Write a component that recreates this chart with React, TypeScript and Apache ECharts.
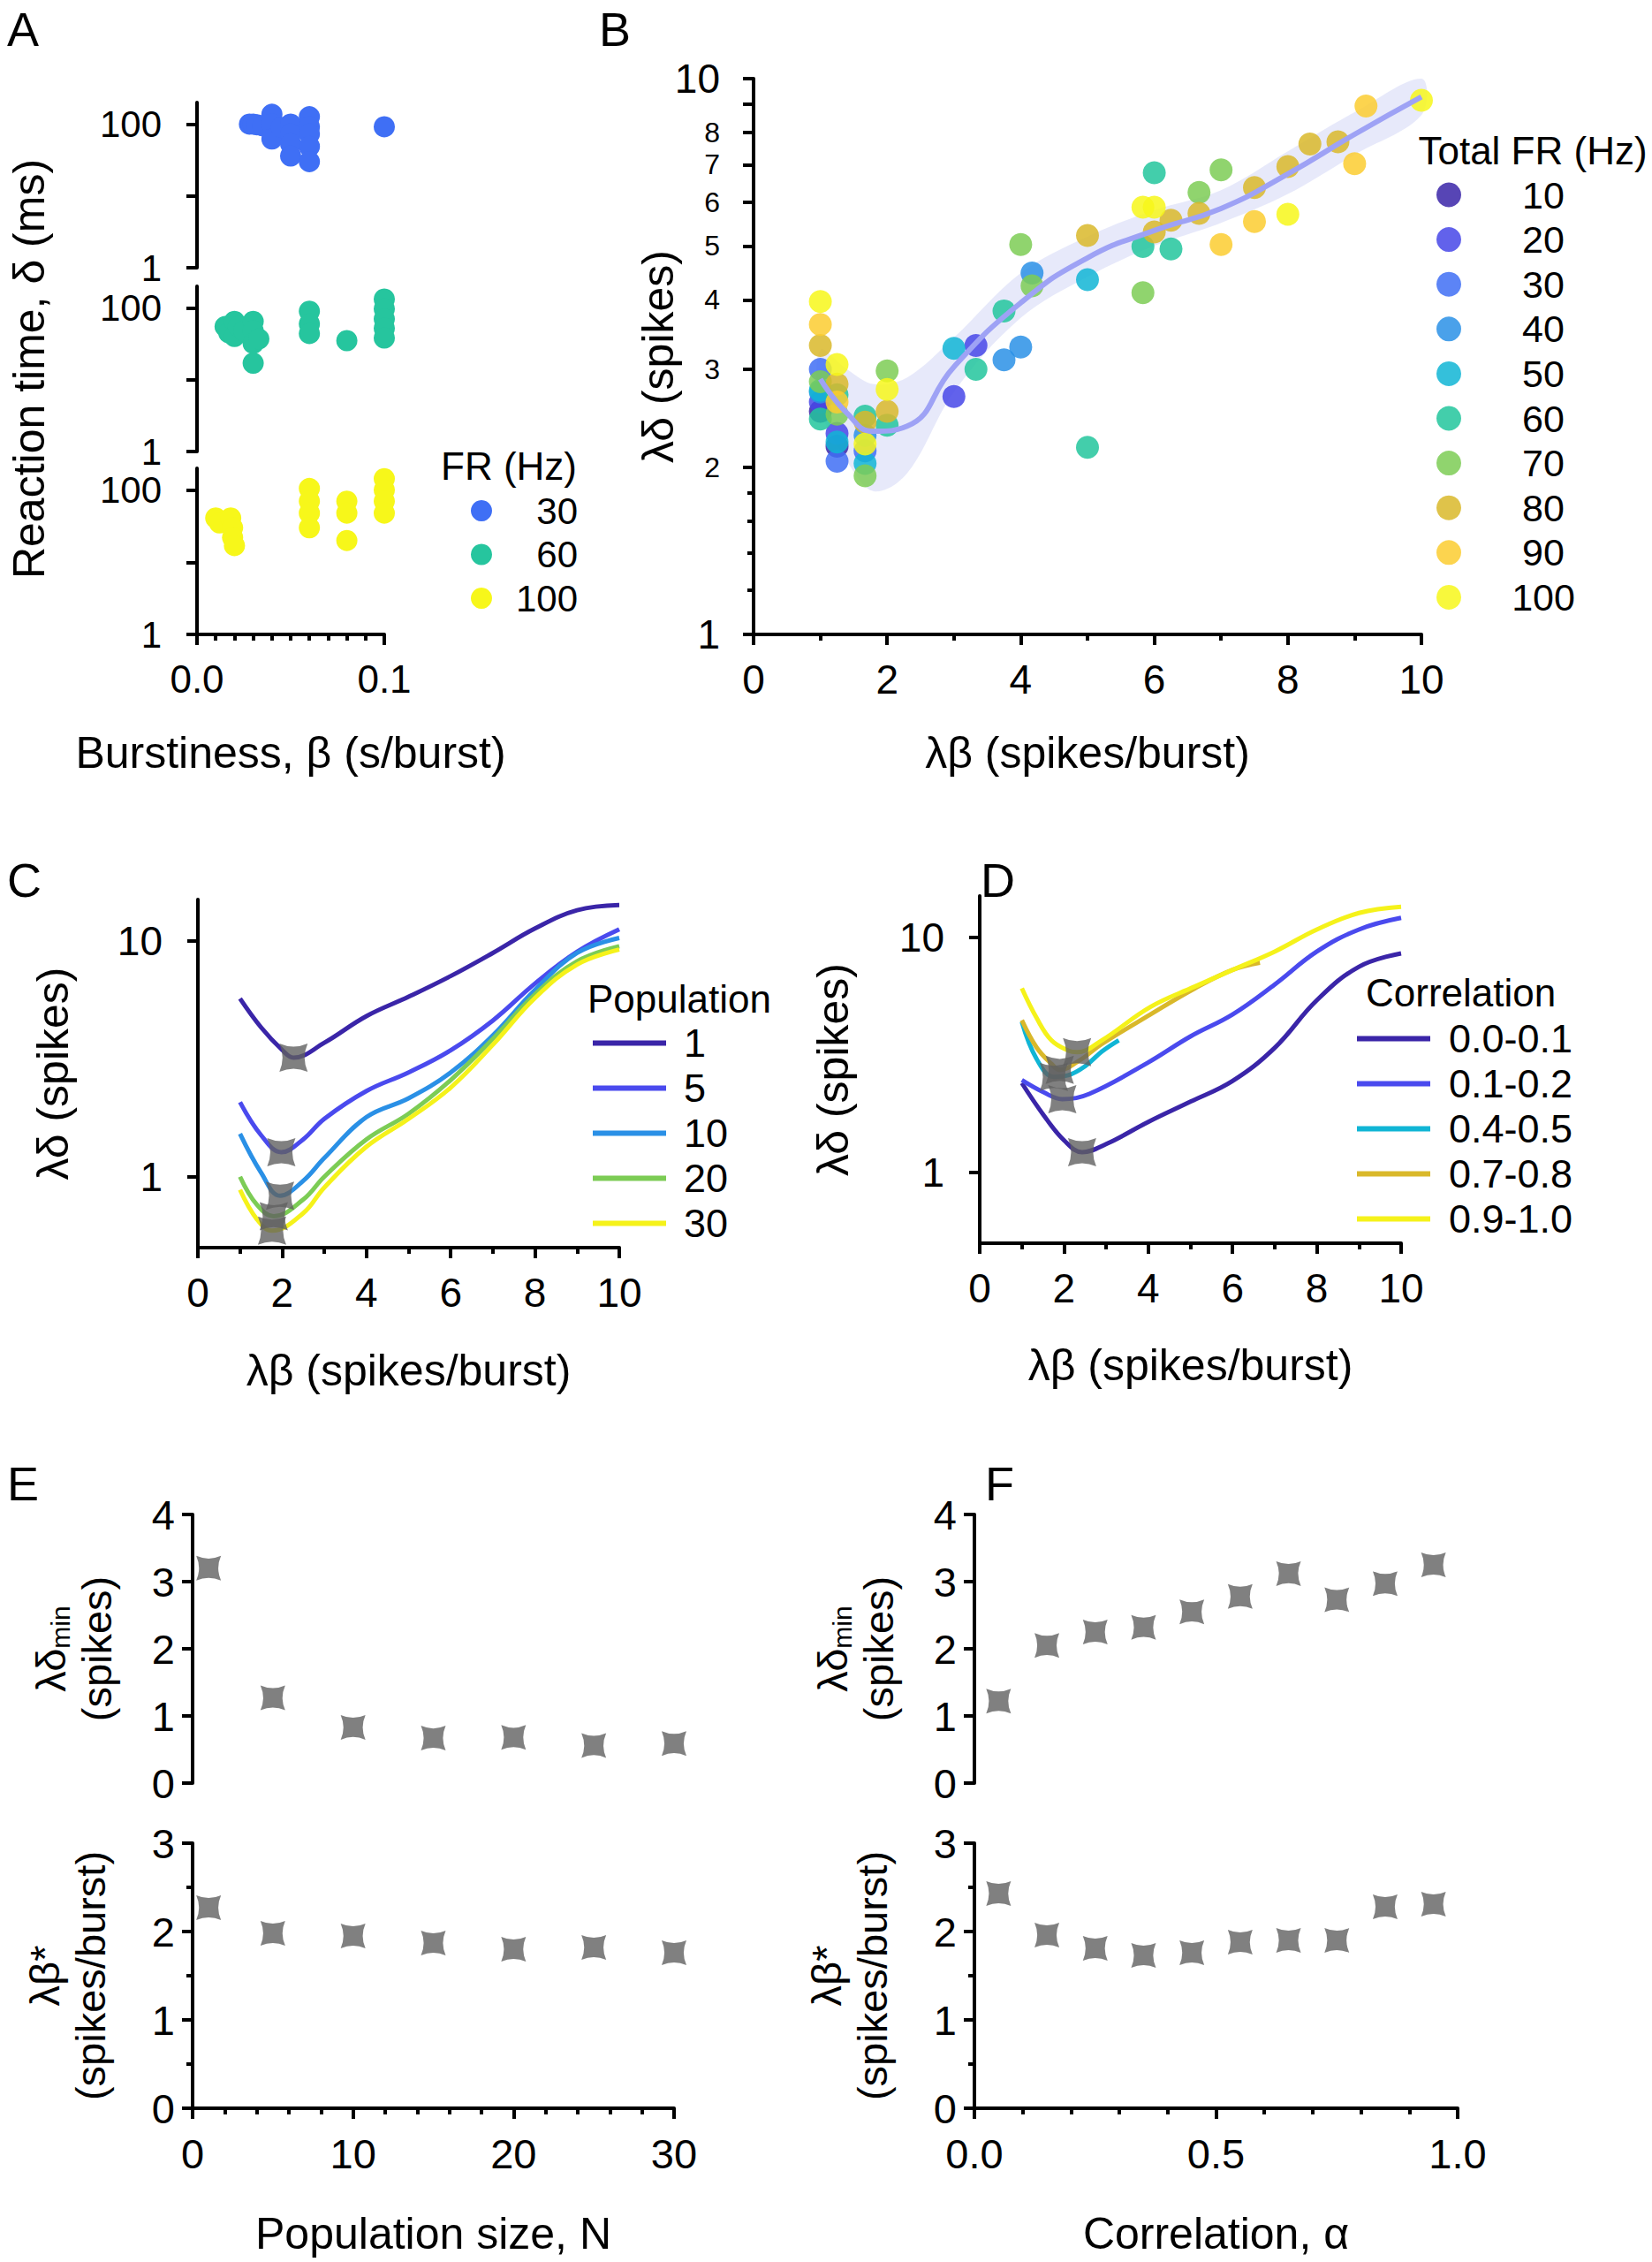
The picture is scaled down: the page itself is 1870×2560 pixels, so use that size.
import React, { useEffect, useRef } from 'react';
import * as echarts from 'echarts';

const FONT = "'Liberation Sans', Arial, Helvetica, sans-serif";
const STAR = 'path://M0,0 Q50,22 100,0 Q78,50 100,100 Q50,78 0,100 Q22,50 0,0 Z';
const STAR_COLOR = '#606060';

// ---------- Panel A : reaction time vs burstiness ----------
const frLabelsA = ['30', '60', '100'];
const frColorsA = ['#3f6ff5', '#26c59e', '#f7f71a'];
const rtFR30 = [
  [0.028, 100], [0.03, 100], [0.032, 98], [0.035, 95], [0.04, 137], [0.04, 100], [0.04, 62],
  [0.045, 90], [0.05, 100], [0.05, 73], [0.05, 53], [0.05, 36], [0.06, 127], [0.06, 92],
  [0.06, 73], [0.06, 49], [0.06, 30], [0.1, 92],
];
const rtFR60 = [
  [0.015, 55], [0.017, 45], [0.02, 65], [0.02, 40], [0.022, 55], [0.025, 48], [0.03, 65],
  [0.03, 48], [0.03, 32], [0.03, 17], [0.033, 37], [0.06, 90], [0.06, 60], [0.06, 44],
  [0.08, 35], [0.1, 133], [0.1, 97], [0.1, 70], [0.1, 52], [0.1, 38],
];
const rtFR100 = [
  [0.01, 41], [0.012, 35], [0.018, 41], [0.019, 30], [0.019, 22], [0.02, 17], [0.06, 105],
  [0.06, 70], [0.06, 48], [0.06, 30], [0.08, 70], [0.08, 48], [0.08, 20], [0.1, 144],
  [0.1, 100], [0.1, 70], [0.1, 48],
];
const rtSeriesA = [rtFR30, rtFR60, rtFR100];

// ---------- Panel B : λδ vs λβ, by total firing rate ----------
const totalFR = ['10', '20', '30', '40', '50', '60', '70', '80', '90', '100'];
const totalFRColors = ['#3a25a8', '#4646e8', '#3f6ff5', '#2a90e6', '#10b5d5', '#22c69c', '#7ccc55', '#d9b82a', '#fccd30', '#f7f71a'];
const bFR10 = [[1, 2.52], [1.25, 2.18]];
const bFR20 = [[1, 2.62], [1.25, 2.3], [3, 2.68], [3.33, 3.31]];
const bFR30 = [[1, 3.0], [1.25, 2.05], [1.67, 2.14]];
const bFR40 = [[1, 2.73], [1.67, 2.28], [3.75, 3.12], [4, 3.29], [4.17, 4.47]];
const bFR50 = [[1, 2.75], [1.25, 2.22], [1.67, 2.03], [3, 3.27], [5, 4.35]];
const bFR60 = [[1, 2.44], [1.25, 2.7], [1.67, 2.47], [2, 2.38], [3.33, 3.0], [3.75, 3.82], [5, 2.17], [5.83, 4.99], [6, 6.77], [6.25, 4.94]];
const bFR70 = [[1, 2.85], [1.25, 2.49], [1.67, 1.93], [2, 2.98], [4, 5.03], [4.17, 4.24], [5.83, 4.12], [6.67, 6.24], [7, 6.85]];
const bFR80 = [[1, 3.31], [1.25, 2.82], [1.67, 2.41], [2, 2.52], [5, 5.22], [6, 5.3], [6.25, 5.56], [6.67, 5.72], [7.5, 6.37], [8, 6.95], [8.33, 7.63], [8.75, 7.7]];
const bFR90 = [[1, 3.61], [1.25, 2.62], [7, 5.03], [7.5, 5.53], [9, 7.03], [9.17, 8.93]];
const bFR100 = [[1, 3.97], [1.25, 3.06], [1.67, 2.2], [2, 2.76], [5.83, 5.87], [6, 5.87], [8, 5.7], [10, 9.14]];
const bSeries = [bFR10, bFR20, bFR30, bFR40, bFR50, bFR60, bFR70, bFR80, bFR90, bFR100];
const fitX = [1, 1.4, 1.8, 2.3, 3, 4, 5, 6, 7, 8, 9, 10];
const fitY = [2.88, 2.5, 2.32, 2.37, 3.03, 3.95, 4.76, 5.33, 5.84, 6.74, 7.94, 9.27];
const bandLo = [2.55, 2.05, 1.81, 1.95, 2.73, 3.71, 4.4, 5.0, 5.5, 6.2, 7.3, 8.6];
const bandHi = [3.25, 3.0, 2.82, 2.9, 3.42, 4.47, 5.2, 5.8, 6.3, 7.4, 8.7, 10.0];
const bLabelValues = [1, 2, 3, 4, 5, 6, 7, 8, 10];
const bTickValues = [1, 2, 3, 4, 5, 6, 7, 8, 9, 10];
const bMinorTickValues = [1.2, 1.4, 1.6, 1.8];

// ---------- Panel C : population curves ----------
const populations = ['1', '5', '10', '20', '30'];
const popColors = ['#3a25a8', '#4a4aee', '#2a90e6', '#7ccc55', '#f5f21a'];
const popCurve1 = [[1, 5.7], [1.5, 4.3], [2, 3.45], [2.27, 3.2], [3, 3.7], [4, 4.8], [5, 5.8], [6, 7.1], [7, 8.9], [8, 11.3], [9, 13.5], [10, 14.2]];
const popCurve5 = [[1, 2.07], [1.5, 1.5], [1.98, 1.27], [2.5, 1.44], [3, 1.76], [4, 2.31], [5, 2.77], [6, 3.44], [7, 4.6], [8, 6.6], [9, 9.0], [10, 11.2]];
const popCurve10 = [[1, 1.52], [1.5, 1.04], [1.95, 0.83], [2.5, 0.96], [3, 1.2], [4, 1.79], [5, 2.15], [6, 2.77], [7, 3.98], [8, 6.2], [9, 8.9], [10, 10.3]];
const popCurve20 = [[1, 1.0], [1.4, 0.76], [1.8, 0.68], [2.5, 0.8], [3, 1.0], [4, 1.44], [5, 1.85], [6, 2.57], [7, 3.84], [8, 5.94], [9, 8.2], [10, 9.5]];
const popCurve30 = [[1, 0.88], [1.4, 0.66], [1.76, 0.59], [2.5, 0.7], [3, 0.9], [4, 1.34], [5, 1.76], [6, 2.39], [7, 3.63], [8, 5.73], [9, 7.95], [10, 9.2]];
const popCurves = [popCurve1, popCurve5, popCurve10, popCurve20, popCurve30];

// ---------- Panel D : correlation curves ----------
const corrBins = ['0.0-0.1', '0.1-0.2', '0.4-0.5', '0.7-0.8', '0.9-1.0'];
const corrColors = ['#3a25a8', '#4a4aee', '#10b5d5', '#d9b82a', '#f5f21a'];
const corrCurve0 = [[1, 2.4], [1.5, 1.77], [2, 1.37], [2.43, 1.22], [3, 1.32], [4, 1.64], [5, 2.0], [6, 2.45], [7, 3.39], [8, 5.4], [9, 7.5], [10, 8.55]];
const corrCurve1 = [[1, 2.47], [1.5, 2.2], [1.96, 2.05], [2.6, 2.16], [4, 2.94], [5, 3.79], [6, 4.7], [7, 6.3], [8, 8.7], [9, 10.8], [10, 12.1]];
const corrCurve4 = [[1, 4.37], [1.35, 3.04], [1.76, 2.55], [2.1, 2.59], [2.5, 2.83], [2.9, 3.27], [3.3, 3.65]];
const corrCurve7 = [[1, 4.44], [1.35, 3.4], [1.7, 2.9], [1.9, 2.73], [2.36, 2.99], [2.9, 3.52], [4.05, 4.7], [5.1, 6.06], [6, 7.27], [6.65, 7.8]];
const corrCurve9 = [[1, 6.07], [1.35, 4.54], [1.7, 3.65], [2.1, 3.3], [2.31, 3.25], [2.9, 3.65], [4.05, 5.06], [5.1, 6.17], [6, 7.27], [7, 8.7], [8, 10.8], [9, 12.7], [10, 13.5]];
const corrCurves = [corrCurve0, corrCurve1, corrCurve4, corrCurve7, corrCurve9];

// ---------- Panel E : minima vs population size ----------
const popSizes = [1, 5, 10, 15, 20, 25, 30];
const popDeltaMin = [3.2, 1.27, 0.83, 0.67, 0.68, 0.56, 0.59];
const popBetaStar = [2.27, 1.98, 1.95, 1.87, 1.8, 1.82, 1.76];
const popStarIdx = [0, 1, 2, 4, 6];

// ---------- Panel F : minima vs correlation ----------
const corrAlpha = [0.05, 0.15, 0.25, 0.35, 0.45, 0.55, 0.65, 0.75, 0.85, 0.95];
const corrDeltaMin = [1.22, 2.05, 2.25, 2.32, 2.55, 2.78, 3.12, 2.73, 2.97, 3.25];
const corrBetaStar = [2.43, 1.96, 1.81, 1.73, 1.76, 1.88, 1.9, 1.9, 2.28, 2.31];
const corrStarIdx = [0, 1, 4, 7, 9];

const axisLine = { show: true, lineStyle: { color: '#000', width: 4 } };
const tick = (len = 12) => ({ show: true, inside: false, length: len, lineStyle: { color: '#000', width: 4 } });
const minor = (split: number) => ({ show: true, splitNumber: split, length: 7, lineStyle: { color: '#000', width: 4 } });
const lbl = (size: number, margin: number, extra: any = {}) => ({ color: '#000', fontSize: size, fontFamily: FONT, margin, ...extra });
const nameStyle = (size = 50, extra: any = {}) => ({ color: '#000', fontSize: size, fontFamily: FONT, lineHeight: 56, ...extra });

function buildOption() {
  const grids = [
    { left: 223, top: 116, width: 212, height: 187 }, // A1
    { left: 223, top: 324, width: 212, height: 187 }, // A2
    { left: 223, top: 530, width: 212, height: 188 }, // A3
    { left: 853, top: 89, width: 756, height: 629 }, // B
    { left: 224, top: 1018, width: 477, height: 394 }, // C
    { left: 1109, top: 1014, width: 477, height: 393 }, // D
    { left: 218, top: 1714, width: 545, height: 304 }, // E1
    { left: 218, top: 2086, width: 545, height: 300 }, // E2
    { left: 1103, top: 1714, width: 547, height: 304 }, // F1
    { left: 1103, top: 2086, width: 547, height: 300 }, // F2
  ].map((g) => ({ ...g, containLabel: false, outerBoundsMode: 'none' }));

  const hiddenX = (gridIndex: number, min: number, max: number) => ({
    type: 'value', gridIndex, min, max, show: false, splitLine: { show: false },
  });

  const xAxis: any[] = [
    hiddenX(0, 0, 0.1),
    hiddenX(1, 0, 0.1),
    {
      type: 'value', gridIndex: 2, min: 0, max: 0.1, interval: 0.1,
      axisLine, axisTick: tick(), minorTick: minor(10), splitLine: { show: false }, minorSplitLine: { show: false },
      axisLabel: lbl(44, 28, { formatter: (v: number) => v.toFixed(1) }),
      name: 'Burstiness, β (s/burst)', nameLocation: 'middle', nameGap: 106, nameTextStyle: nameStyle(), nameMoveOverlap: false,
    },
    {
      type: 'value', gridIndex: 3, min: 0, max: 10, interval: 2,
      axisLine, axisTick: tick(), minorTick: minor(2), splitLine: { show: false }, minorSplitLine: { show: false },
      axisLabel: lbl(46, 28),
      name: 'λβ (spikes/burst)', nameLocation: 'middle', nameGap: 106, nameTextStyle: nameStyle(), nameMoveOverlap: false,
    },
    {
      type: 'value', gridIndex: 4, min: 0, max: 10, interval: 2,
      axisLine, axisTick: tick(), minorTick: minor(2), splitLine: { show: false }, minorSplitLine: { show: false },
      axisLabel: lbl(46, 28),
      name: 'λβ (spikes/burst)', nameLocation: 'middle', nameGap: 111, nameTextStyle: nameStyle(), nameMoveOverlap: false,
    },
    {
      type: 'value', gridIndex: 5, min: 0, max: 10, interval: 2,
      axisLine, axisTick: tick(), minorTick: minor(2), splitLine: { show: false }, minorSplitLine: { show: false },
      axisLabel: lbl(46, 28),
      name: 'λβ (spikes/burst)', nameLocation: 'middle', nameGap: 110, nameTextStyle: nameStyle(), nameMoveOverlap: false,
    },
    hiddenX(6, 0, 30),
    {
      type: 'value', gridIndex: 7, min: 0, max: 30, interval: 10,
      axisLine, axisTick: tick(), minorTick: minor(5), splitLine: { show: false }, minorSplitLine: { show: false },
      axisLabel: lbl(47, 28),
      name: 'Population size, N', nameLocation: 'middle', nameGap: 114, nameTextStyle: nameStyle(), nameMoveOverlap: false,
    },
    hiddenX(8, 0, 1),
    {
      type: 'value', gridIndex: 9, min: 0, max: 1, interval: 0.5,
      axisLine, axisTick: tick(), minorTick: minor(5), splitLine: { show: false }, minorSplitLine: { show: false },
      axisLabel: lbl(47, 28, { formatter: (v: number) => v.toFixed(1) }),
      name: 'Correlation, α', nameLocation: 'middle', nameGap: 114, nameTextStyle: nameStyle(), nameMoveOverlap: false,
    },
  ];

  const logA = (gridIndex: number, extra: any = {}) => ({
    type: 'log', logBase: 10, gridIndex, min: 1, max: 200,
    axisLine, axisTick: { ...tick(), customValues: [1, 10, 100] },
    axisLabel: { ...lbl(42, 40), customValues: [1, 100], formatter: (v: number) => String(Math.round(v)) },
    splitLine: { show: false }, minorTick: { show: false }, minorSplitLine: { show: false },
    ...extra,
  });

  const logCD = (gridIndex: number, nameGap: number) => ({
    type: 'log', logBase: 10, gridIndex, min: 0.5, max: 15,
    axisLine, axisTick: { ...tick(), customValues: [1, 10] },
    axisLabel: { ...lbl(46, 40), customValues: [1, 10], formatter: (v: number) => String(Math.round(v)) },
    splitLine: { show: false }, minorTick: { show: false }, minorSplitLine: { show: false },
    name: 'λδ (spikes)', nameLocation: 'middle', nameRotate: 90, nameGap, nameTextStyle: nameStyle(), nameMoveOverlap: false,
  });

  const richName = {
    a: { fontSize: 47, fontFamily: FONT, color: '#000', lineHeight: 52 },
    s: { fontSize: 30, fontFamily: FONT, color: '#000', lineHeight: 52, verticalAlign: 'bottom' },
  };

  const linY = (gridIndex: number, max: number, nameText: string, nameGap: number, withMinor: boolean) => ({
    type: 'value', gridIndex, min: 0, max, interval: 1,
    axisLine, axisTick: tick(12), minorTick: withMinor ? minor(2) : { show: false },
    splitLine: { show: false }, minorSplitLine: { show: false },
    axisLabel: lbl(47, 20),
    name: nameText, nameLocation: 'middle', nameRotate: 90, nameGap,
    nameTextStyle: { color: '#000', fontFamily: FONT, fontSize: 47, lineHeight: 52, rich: richName }, nameMoveOverlap: false,
  });

  const yAxis: any[] = [
    logA(0),
    logA(1, { name: 'Reaction time, δ (ms)', nameLocation: 'middle', nameRotate: 90, nameGap: 162, nameTextStyle: nameStyle(), nameMoveOverlap: false }),
    logA(2),
    {
      type: 'log', logBase: 10, gridIndex: 3, min: 1, max: 10,
      axisLine, axisTick: { ...tick(12), customValues: bTickValues },
      axisLabel: {
        ...lbl(46, 38), customValues: bLabelValues,
        formatter: (v: number) => {
          const r = Math.round(v);
          return r === 1 || r === 10 ? `{b|${r}}` : `{s|${r}}`;
        },
        rich: { b: { fontSize: 46, fontFamily: FONT, color: '#000' }, s: { fontSize: 32, fontFamily: FONT, color: '#000' } },
      },
      splitLine: { show: false }, minorTick: { show: false }, minorSplitLine: { show: false },
      name: 'λδ (spikes)', nameLocation: 'middle', nameRotate: 90, nameGap: 80, nameTextStyle: nameStyle(), nameMoveOverlap: false,
    },
    logCD(4, 136),
    logCD(5, 138),
    linY(6, 4, '{a|λδ}{s|min}\n{a|(spikes)}', 83, false),
    linY(7, 3, '{a|λβ*}\n{a|(spikes/burst)}', 90, true),
    linY(8, 4, '{a|λδ}{s|min}\n{a|(spikes)}', 83, false),
    linY(9, 3, '{a|λβ*}\n{a|(spikes/burst)}', 90, true),
    {
      type: 'log', logBase: 10, gridIndex: 3, min: 1, max: 10, position: 'left',
      axisLine: { show: false }, axisLabel: { show: false },
      axisTick: { show: true, inside: false, length: 7, lineStyle: { color: '#000', width: 4 }, customValues: bMinorTickValues },
      splitLine: { show: false }, minorTick: { show: false },
    },
  ];

  const series: any[] = [];

  // A
  rtSeriesA.forEach((data, i) => {
    series.push({
      type: 'scatter', name: 'A' + frLabelsA[i], xAxisIndex: i, yAxisIndex: i, data,
      symbolSize: 24, itemStyle: { color: frColorsA[i], opacity: 1 },
    });
  });

  // B band + points + fit
  series.push({
    type: 'custom', name: 'band', xAxisIndex: 3, yAxisIndex: 3, silent: true, z: 1,
    data: fitX.map((x, i) => [x, bandLo[i], bandHi[i]]),
    encode: { x: 0, y: [1, 2] },
    renderItem: (params: any, api: any) => {
      if (params.dataIndex !== 0) return null;
      const top = fitX.map((x, i) => api.coord([x, bandHi[i]]));
      const bot = fitX.map((x, i) => api.coord([x, bandLo[i]])).reverse();
      return {
        type: 'polygon',
        shape: { points: top.concat(bot), smooth: 0.35 },
        style: { fill: '#e4e7fa', opacity: 0.9 },
      };
    },
  });
  bSeries.forEach((data, i) => {
    series.push({
      type: 'scatter', name: 'B' + totalFR[i], xAxisIndex: 3, yAxisIndex: 3, data, z: 3,
      symbolSize: 26, itemStyle: { color: totalFRColors[i], opacity: 0.85 },
    });
  });
  series.push({
    type: 'line', name: 'fit', xAxisIndex: 3, yAxisIndex: 3, z: 4, smooth: 0.5, symbol: 'none', showSymbol: false,
    data: fitX.map((x, i) => [x, fitY[i]]),
    lineStyle: { color: '#9ea2f5', width: 6 }, itemStyle: { color: '#9ea2f5' },
  });

  // C
  popCurves.forEach((data, i) => {
    series.push({
      type: 'line', name: 'C' + populations[i], xAxisIndex: 4, yAxisIndex: 4, smooth: 0.4, symbol: 'none', showSymbol: false,
      data, lineStyle: { color: popColors[i], width: 5 }, itemStyle: { color: popColors[i] }, z: 2,
    });
  });
  series.push({
    type: 'scatter', name: 'Cstar', xAxisIndex: 4, yAxisIndex: 4, symbol: STAR, symbolSize: 32, z: 5,
    data: popStarIdx.map((k) => [popBetaStar[k], popDeltaMin[k]]),
    itemStyle: { color: STAR_COLOR },
  });

  // D
  corrCurves.forEach((data, i) => {
    series.push({
      type: 'line', name: 'D' + corrBins[i], xAxisIndex: 5, yAxisIndex: 5, smooth: 0.4, symbol: 'none', showSymbol: false,
      data, lineStyle: { color: corrColors[i], width: 5 }, itemStyle: { color: corrColors[i] }, z: 2,
    });
  });
  series.push({
    type: 'scatter', name: 'Dstar', xAxisIndex: 5, yAxisIndex: 5, symbol: STAR, symbolSize: 32, z: 5,
    data: corrStarIdx.map((k) => [corrBetaStar[k], corrDeltaMin[k]]),
    itemStyle: { color: STAR_COLOR },
  });

  // E
  series.push({
    type: 'scatter', name: 'Edelta', xAxisIndex: 6, yAxisIndex: 6, symbol: STAR, symbolSize: 28,
    data: popSizes.map((n, i) => [n, popDeltaMin[i]]), itemStyle: { color: STAR_COLOR },
  });
  series.push({
    type: 'scatter', name: 'Ebeta', xAxisIndex: 7, yAxisIndex: 7, symbol: STAR, symbolSize: 28,
    data: popSizes.map((n, i) => [n, popBetaStar[i]]), itemStyle: { color: STAR_COLOR },
  });
  // F
  series.push({
    type: 'scatter', name: 'Fdelta', xAxisIndex: 8, yAxisIndex: 8, symbol: STAR, symbolSize: 28,
    data: corrAlpha.map((a, i) => [a, corrDeltaMin[i]]), itemStyle: { color: STAR_COLOR },
  });
  series.push({
    type: 'scatter', name: 'Fbeta', xAxisIndex: 9, yAxisIndex: 9, symbol: STAR, symbolSize: 28,
    data: corrAlpha.map((a, i) => [a, corrBetaStar[i]]), itemStyle: { color: STAR_COLOR },
  });

  const legend: any[] = [
    {
      data: frLabelsA.map((l) => 'A' + l), orient: 'vertical', left: 533, top: 557, padding: 0,
      icon: 'circle', itemWidth: 24, itemHeight: 24, itemGap: 7.5, selectedMode: false,
      formatter: (n: string) => `{r|${n.slice(1)}}`,
      textStyle: { rich: { r: { fontSize: 42, fontFamily: FONT, color: '#000', width: 92, align: 'right' } } },
    },
    {
      data: totalFR.map((l) => 'B' + l), orient: 'vertical', left: 1626, top: 199, padding: 0,
      icon: 'circle', itemWidth: 28, itemHeight: 28, itemGap: 7.6, selectedMode: false,
      formatter: (n: string) => `{c|${n.slice(1)}}`,
      textStyle: { rich: { c: { fontSize: 43, fontFamily: FONT, color: '#000', width: 176, align: 'center' } } },
    },
    {
      data: populations.map((l) => 'C' + l), orient: 'vertical', left: 671, top: 1158, padding: 0,
      icon: 'rect', itemWidth: 83, itemHeight: 6, itemGap: 6, selectedMode: false,
      formatter: (n: string) => `{t|${n.slice(1)}}`,
      textStyle: { rich: { t: { fontSize: 45, fontFamily: FONT, color: '#000', padding: [0, 0, 0, 15] } } },
    },
    {
      data: corrBins.map((l) => 'D' + l), orient: 'vertical', left: 1536, top: 1153, padding: 0,
      icon: 'rect', itemWidth: 83, itemHeight: 6, itemGap: 6, selectedMode: false,
      formatter: (n: string) => `{t|${n.slice(1)}}`,
      textStyle: { rich: { t: { fontSize: 45, fontFamily: FONT, color: '#000', padding: [0, 0, 0, 16] } } },
    },
  ];

  const txt = (text: string, x: number, y: number, size: number, align = 'left') => ({
    type: 'text', x, y, silent: true,
    style: { text, fill: '#000', fontSize: size, fontFamily: FONT, align, verticalAlign: 'middle' },
  });

  const graphic = [
    txt('A', 8, 33, 54), txt('B', 678, 33, 54), txt('C', 8, 996, 54), txt('D', 1110, 996, 54),
    txt('E', 8, 1679, 54), txt('F', 1115, 1679, 54),
    txt('FR (Hz)', 576, 527, 44, 'center'),
    txt('Total FR (Hz)', 1735, 170, 44, 'center'),
    txt('Population', 665, 1130, 44),
    txt('Correlation', 1546, 1123, 44),
  ];

  return {
    animation: false,
    backgroundColor: '#ffffff',
    textStyle: { fontFamily: FONT },
    grid: grids,
    xAxis,
    yAxis,
    series,
    legend,
    graphic,
  };
}

export default function App() {
  const ref = useRef<HTMLDivElement>(null);
  useEffect(() => {
    if (!ref.current) return;
    const chart = echarts.init(ref.current, undefined, { renderer: 'svg' });
    chart.setOption(buildOption() as any);
    return () => chart.dispose();
  }, []);
  return (
    <div
      ref={ref}
      style={{ position: 'absolute', left: 0, top: 0, width: 1870, height: 2560, background: '#fff' }}
    />
  );
}
